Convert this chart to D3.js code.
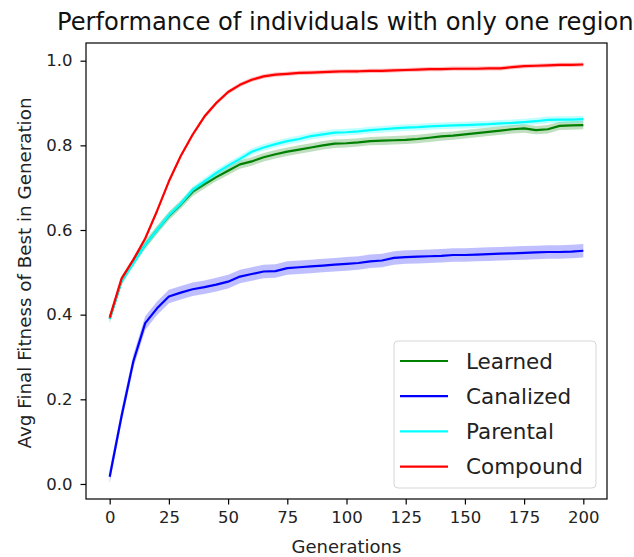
<!DOCTYPE html>
<html>
<head>
<meta charset="utf-8">
<script src="https://cdn.jsdelivr.net/npm/d3@7"></script>
<style>
  html, body { margin: 0; padding: 0; background: #fff; }
  svg { display: block; font-family: "DejaVu Sans", sans-serif; }
</style>
</head>
<body>
<svg id="chart" width="634" height="557"></svg>
<script>
// generations sampled every 5
const generations = d3.range(0, 201, 5);

const learned = [0.390, 0.480, 0.525, 0.565, 0.600, 0.633, 0.660, 0.690, 0.708, 0.725,
  0.740, 0.755, 0.762, 0.772, 0.779, 0.785, 0.790, 0.795, 0.800, 0.804,
  0.805, 0.807, 0.810, 0.811, 0.812, 0.813, 0.815, 0.818, 0.821, 0.823,
  0.826, 0.829, 0.832, 0.835, 0.838, 0.840, 0.836, 0.838, 0.846, 0.847, 0.848];

const canalized = [0.017, 0.160, 0.290, 0.380, 0.415, 0.443, 0.452, 0.460, 0.465, 0.471,
  0.478, 0.490, 0.496, 0.502, 0.503, 0.510, 0.512, 0.514, 0.516, 0.518,
  0.520, 0.522, 0.526, 0.528, 0.534, 0.536, 0.537, 0.538, 0.539, 0.541,
  0.541, 0.542, 0.543, 0.544, 0.545, 0.546, 0.547, 0.548, 0.548, 0.549, 0.551];

const parental = [0.390, 0.480, 0.522, 0.565, 0.600, 0.635, 0.662, 0.695, 0.715, 0.735,
  0.752, 0.768, 0.785, 0.795, 0.803, 0.810, 0.815, 0.822, 0.826, 0.830,
  0.831, 0.833, 0.836, 0.838, 0.840, 0.842, 0.843, 0.845, 0.846, 0.847,
  0.848, 0.849, 0.850, 0.852, 0.853, 0.855, 0.857, 0.860, 0.861, 0.861, 0.862];

const compound = [0.393, 0.485, 0.530, 0.580, 0.645, 0.715, 0.775, 0.825, 0.868, 0.900,
  0.926, 0.943, 0.955, 0.963, 0.967, 0.969, 0.971, 0.972, 0.973, 0.974,
  0.975, 0.975, 0.976, 0.976, 0.977, 0.978, 0.979, 0.980, 0.980, 0.981,
  0.981, 0.981, 0.982, 0.982, 0.985, 0.987, 0.988, 0.989, 0.990, 0.990, 0.991];

// half-width of the shaded band for each series
const spreads = [0.010, 0.016, 0.008, 0.005];

const seriesNames = ["Learned", "Canalized", "Parental", "Compound"];
const seriesColors = ["#008000", "#0000ff", "#00ffff", "#ff0000"];
const seriesValues = [learned, canalized, parental, compound];

const xTicks = [0, 25, 50, 75, 100, 125, 150, 175, 200];
const yTicks = [0.0, 0.2, 0.4, 0.6, 0.8, 1.0];

(function () {
  const svg = d3.select("#chart");
  const pLeft = 86, pRight = 607, pTop = 43, pBottom = 499;

  const x = d3.scaleLinear().domain([-10, 210]).range([pLeft, pRight]);
  const y = d3.scaleLinear().domain([-0.0355, 1.0418]).range([pBottom, pTop]);

  // series: band + line
  seriesValues.forEach((vals, i) => {
    const pts = generations.map((g, j) => ({ g, v: vals[j] }));
    const s = spreads[i];

    svg.append("path")
      .datum(pts)
      .attr("fill", seriesColors[i])
      .attr("fill-opacity", 0.25)
      .attr("d", d3.area()
        .x(d => x(d.g))
        .y0(d => y(d.v - s))
        .y1(d => y(d.v + s)));

    svg.append("path")
      .datum(pts)
      .attr("fill", "none")
      .attr("stroke", seriesColors[i])
      .attr("stroke-width", 2.2)
      .attr("stroke-linejoin", "round")
      .attr("d", d3.line().x(d => x(d.g)).y(d => y(d.v)));
  });

  // frame
  svg.append("rect")
    .attr("x", pLeft).attr("y", pTop)
    .attr("width", pRight - pLeft).attr("height", pBottom - pTop)
    .attr("fill", "none").attr("stroke", "#000").attr("stroke-width", 1.2);

  // axes
  const xAxis = svg.append("g")
    .attr("transform", `translate(0,${pBottom})`)
    .call(d3.axisBottom(x).tickValues(xTicks).tickSize(5.5).tickPadding(7).tickFormat(d3.format("d")));
  const yAxis = svg.append("g")
    .attr("transform", `translate(${pLeft},0)`)
    .call(d3.axisLeft(y).tickValues(yTicks).tickSize(5.5).tickPadding(8).tickFormat(d3.format(".1f")));

  [xAxis, yAxis].forEach(a => {
    a.select(".domain").remove();
    a.selectAll(".tick line").attr("stroke", "#000").attr("stroke-width", 1.2);
    a.selectAll(".tick text")
      .attr("fill", "#222")
      .style("font-family", "DejaVu Sans")
      .style("font-size", "16.5px");
  });

  // titles
  svg.append("text")
    .attr("x", 57).attr("y", 30)
    .attr("text-anchor", "start")
    .style("font-size", "24.2px")
    .attr("fill", "#111")
    .text("Performance of individuals with only one region");

  svg.append("text")
    .attr("x", (pLeft + pRight) / 2).attr("y", 553)
    .attr("text-anchor", "middle")
    .style("font-size", "18px")
    .attr("fill", "#222")
    .text("Generations");

  svg.append("text")
    .attr("transform", `translate(31,${(pTop + pBottom) / 2 + 2}) rotate(-90)`)
    .attr("text-anchor", "middle")
    .style("font-size", "18.3px")
    .attr("fill", "#222")
    .text("Avg Final Fitness of Best in Generation");

  // legend
  const lg = svg.append("g").attr("transform", "translate(394,341)");
  lg.append("rect")
    .attr("width", 202).attr("height", 147).attr("rx", 4)
    .attr("fill", "#fff").attr("fill-opacity", 0.8)
    .attr("stroke", "#d6d6d6").attr("stroke-width", 1);

  seriesNames.forEach((name, i) => {
    const yy = 20 + i * 35.2;
    lg.append("line")
      .attr("x1", 6).attr("x2", 54).attr("y1", yy).attr("y2", yy)
      .attr("stroke", seriesColors[i]).attr("stroke-width", 2.2);
    lg.append("text")
      .attr("x", 72).attr("y", yy).attr("dy", "0.36em")
      .style("font-size", "21.5px")
      .attr("fill", "#222")
      .text(name);
  });
})();
</script>
</body>
</html>
